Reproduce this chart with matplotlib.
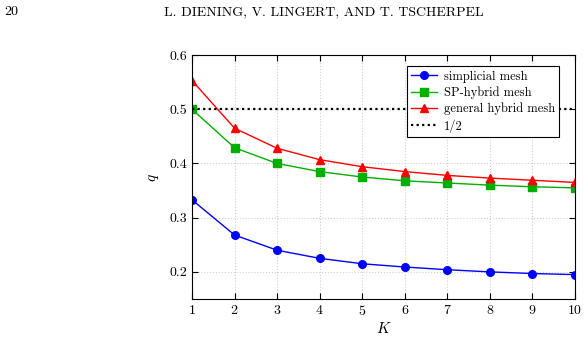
import matplotlib
matplotlib.use("Agg")
import matplotlib.pyplot as plt

K = [1, 2, 3, 4, 5, 6, 7, 8, 9, 10]
simplicial = [0.333, 0.268, 0.240, 0.225, 0.215, 0.209, 0.204, 0.200, 0.197, 0.195]
sp_hybrid = [0.500, 0.429, 0.400, 0.385, 0.375, 0.368, 0.364, 0.360, 0.357, 0.355]
general_hybrid = [0.553, 0.465, 0.428, 0.407, 0.394, 0.385, 0.378, 0.373, 0.369, 0.365]
half = 0.5

plt.rcParams["font.family"] = "serif"
plt.rcParams["font.serif"] = ["cmr10"]
plt.rcParams["mathtext.fontset"] = "cm"
plt.rcParams["axes.formatter.use_mathtext"] = True

fig = plt.figure(figsize=(5.88, 3.44), dpi=100)
ax = fig.add_axes([0.3265, 0.1308, 0.6515, 0.7092])

ax.plot(K, simplicial, color="blue", marker="o", ms=5.5, lw=1, label="simplicial mesh")
ax.plot(K, sp_hybrid, color="#00b000", marker="s", ms=5.5, lw=1, label="SP-hybrid mesh")
ax.plot(K, general_hybrid, color="red", marker="^", ms=5.5, lw=1, label="general hybrid mesh")
ax.axhline(half, color="black", ls=(0, (1, 1.5)), lw=1.6, label="1/2")

ax.set_xlim(1, 10)
ax.set_ylim(0.15, 0.6)
ax.set_xticks(K)
ax.set_yticks([0.2, 0.3, 0.4, 0.5, 0.6])
ax.set_yticklabels(["0.2", "0.3", "0.4", "0.5", "0.6"])
ax.tick_params(direction="in", top=True, right=True, labelsize=10, length=4)
ax.grid(True, color="#d0d0d0", ls=":", lw=0.8)
ax.set_xlabel("$K$", fontsize=11, labelpad=2)
ax.set_ylabel("$q$", fontsize=11, labelpad=6)

leg = ax.legend(loc="upper right", fontsize=9, fancybox=False, framealpha=1,
                edgecolor="black", borderpad=0.35, handlelength=2.1,
                handletextpad=0.5, labelspacing=0.3,
                bbox_to_anchor=(0.975, 0.98))
leg.get_frame().set_linewidth(0.8)

fig.text(0.008, 0.965, "20", fontsize=10, va="center")
fig.text(0.55, 0.965, "L. DIENING, V. LINGERT, AND T. TSCHERPEL", fontsize=10,
         va="center", ha="center")

fig.savefig("out.png", dpi=100)
